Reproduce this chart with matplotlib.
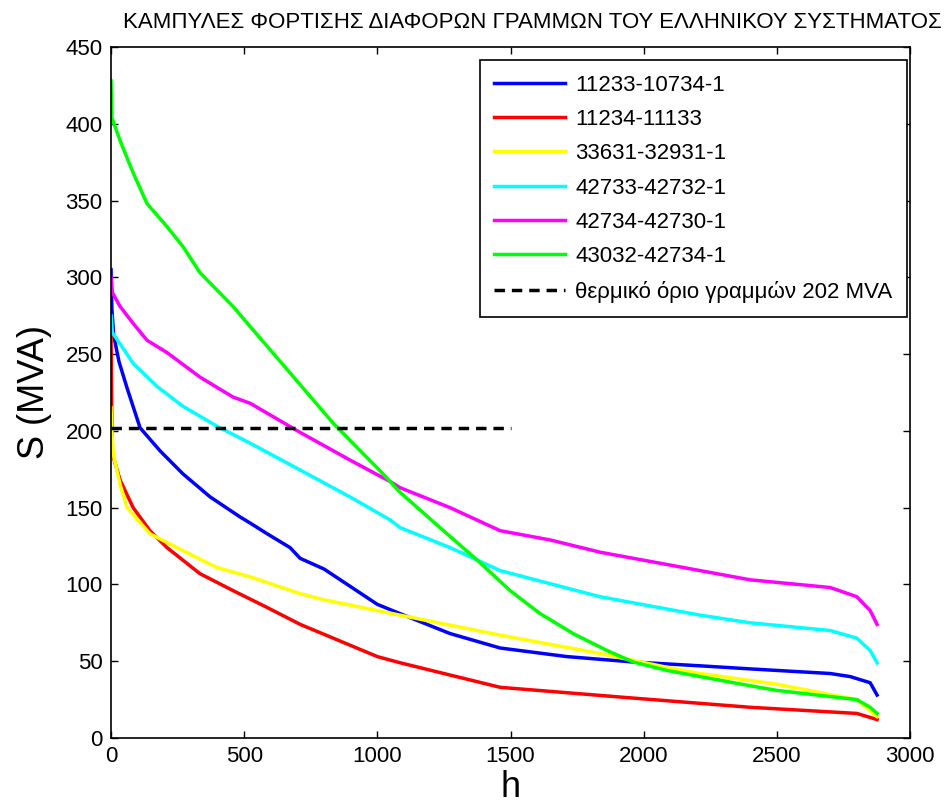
import matplotlib
matplotlib.use("Agg")
import matplotlib.pyplot as plt

plt.rcParams['font.family'] = ['Liberation Sans', 'DejaVu Sans']

title = "ΚΑΜΠΥΛΕΣ ΦΟΡΤΙΣΗΣ ΔΙΑΦΟΡΩΝ ΓΡΑΜΜΩΝ ΤΟΥ ΕΛΛΗΝΙΚΟΥ ΣΥΣΤΗΜΑΤΟΣ"
xlabel = "h"
ylabel = "S (MVA)"

labels = ["11233-10734-1", "11234-11133", "33631-32931-1",
          "42733-42732-1", "42734-42730-1", "43032-42734-1"]
colors = ["#0000ff", "#ff0000", "#ffff00", "#00ffff", "#ff00ff", "#00ff00"]

blue_h = [0, 3, 10, 30, 60, 109, 184, 270, 372, 484, 522, 586, 672, 710, 800, 1000, 1085, 1273, 1461, 1712, 1960, 2212, 2400, 2700, 2775, 2850, 2876]
blue_s = [305, 280, 262, 245, 228, 202, 187, 172, 157, 144, 140, 133, 124, 117, 110, 87, 81, 68, 58.6, 53, 49.5, 47, 45, 42, 40, 36, 28]

red_h = [0, 2, 5, 34, 83, 146, 210, 334, 458, 586, 710, 1000, 1085, 1461, 1960, 2400, 2800, 2876]
red_s = [262, 220, 185, 168, 150, 135, 124, 107, 96, 85, 74, 53, 49, 33, 26, 20, 16, 12]

yellow_h = [0, 3, 8, 34, 60, 146, 270, 398, 522, 710, 800, 1085, 1461, 1836, 2088, 2212, 2500, 2800, 2876]
yellow_s = [215, 200, 185, 165, 150, 133, 122, 111, 105, 94, 90, 80, 67, 55, 46, 42, 35, 25, 14]

cyan_h = [0, 5, 83, 172, 270, 398, 522, 710, 897, 1048, 1085, 1273, 1461, 1836, 2212, 2400, 2700, 2800, 2850, 2876]
cyan_s = [275, 264, 244, 229, 216, 203, 192, 174.5, 157, 142, 137, 124, 109, 92, 80, 75, 70, 65, 57, 49]

magenta_h = [0, 5, 34, 83, 135, 210, 334, 458, 522, 710, 897, 1048, 1085, 1273, 1461, 1648, 1836, 2212, 2400, 2700, 2800, 2850, 2876]
magenta_s = [300, 290, 281, 270, 259, 251, 235, 222, 218, 199, 181, 167, 163, 150, 135, 129, 121, 109, 103, 98, 92, 83, 74]

green_h = [0, 3, 34, 83, 135, 210, 270, 334, 458, 522, 661, 834, 1021, 1085, 1235, 1374, 1498, 1611, 1735, 1862, 1960, 2088, 2212, 2400, 2500, 2800, 2850, 2876]
green_s = [428, 404, 389, 368, 348, 333, 320, 303, 281, 268, 240, 205, 172, 160, 137, 116, 96, 81, 68, 57, 49.5, 44, 40, 34, 31, 25, 20, 16]

limit_h = [0, 1500]
limit_s = [202, 202]
limit_label = "θερμικό όριο γραμμών 202 MVA"

series = [(blue_h, blue_s), (red_h, red_s), (yellow_h, yellow_s),
          (cyan_h, cyan_s), (magenta_h, magenta_s), (green_h, green_s)]

fig = plt.figure(figsize=(9.49, 8.07), dpi=100)
ax = fig.add_axes([0.117, 0.0855, 0.842, 0.8563])

for (h, s), c, lab in zip(series, colors, labels):
    ax.plot(h, s, color=c, lw=2.5, label=lab)
ax.plot(limit_h, limit_s, color='black', lw=2.5, ls=(0, (3, 2)), label=limit_label)

ax.set_xlim(0, 3000)
ax.set_ylim(0, 450)
ax.set_xticks([0, 500, 1000, 1500, 2000, 2500, 3000])
ax.set_yticks([0, 50, 100, 150, 200, 250, 300, 350, 400, 450])
ax.tick_params(direction='in', top=True, right=True, length=5, width=1, labelsize=16, pad=6)
for sp in ax.spines.values():
    sp.set_linewidth(1.2)

ax.set_xlabel(xlabel, fontsize=26, labelpad=2)
ax.set_ylabel(ylabel, fontsize=26, labelpad=10)
fig.text(0.561, 0.972, title, ha='center', va='center', fontsize=16)

leg = ax.legend(loc='upper right', fontsize=16, frameon=True, fancybox=False,
                edgecolor='black', framealpha=1, handlelength=3.2,
                handletextpad=0.45, borderpad=0.65, labelspacing=0.6,
                bbox_to_anchor=(0.996, 0.981), borderaxespad=0)
leg.get_frame().set_linewidth(1.2)

fig.savefig("out.png", dpi=100)
